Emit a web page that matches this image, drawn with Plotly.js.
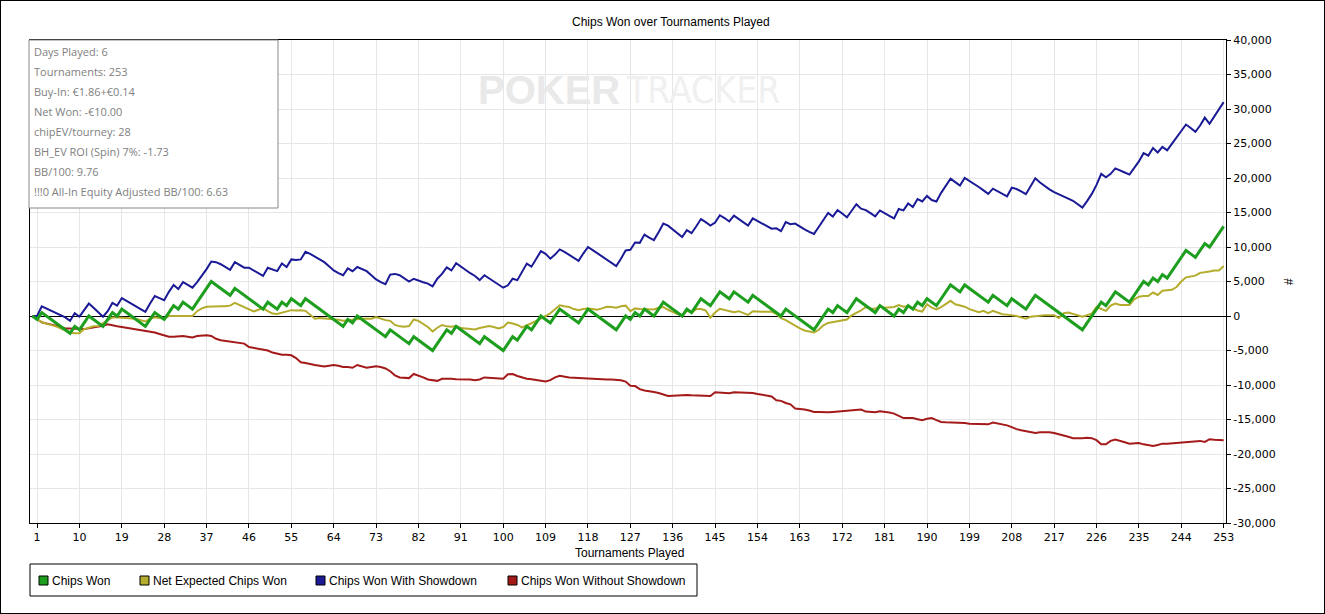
<!DOCTYPE html>
<html>
<head>
<meta charset="utf-8">
<script src="https://cdn.plot.ly/plotly-3.0.1.min.js"></script>
<style>
  html, body { margin: 0; padding: 0; background: #ffffff; }
  #wrap { position: relative; width: 1325px; height: 614px; }
  #chart { position: absolute; left: 0; top: 0; width: 1325px; height: 614px; }
  #frame { position: absolute; left: 0; top: 0; width: 1325px; height: 614px; box-sizing: border-box; border: 1px solid #000; pointer-events: none; }
</style>
</head>
<body>
<div id="wrap"><div id="chart"></div><div id="frame"></div></div>
<script>
// ---------------- DATA ----------------
const chartTitle = "Chips Won over Tournaments Played";
const xTitle = "Tournaments Played";
const yTitle = "#";

const seriesNames = ["Chips Won", "Net Expected Chips Won", "Chips Won With Showdown", "Chips Won Without Showdown"];
const seriesColors = ["#1e9e1e", "#b4ac2c", "#1a1a96", "#a41a1a"];

const infoLines = [
  "Days Played: 6",
  "Tournaments: 253",
  "Buy-In: €1.86+€0.14",
  "Net Won: -€10.00",
  "chipEV/tourney: 28",
  "BH_EV ROI (Spin) 7%: -1.73",
  "BB/100: 9.76",
  "!!!0 All-In Equity Adjusted BB/100: 6.63"
];

const xTickVals = [1,10,19,28,37,46,55,64,73,82,91,100,109,118,127,136,145,154,163,172,181,190,199,208,217,226,235,244,253];
const yTickVals = [-30000,-25000,-20000,-15000,-10000,-5000,0,5000,10000,15000,20000,25000,30000,35000,40000];
const yTickText = ["-30,000","-25,000","-20,000","-15,000","-10,000","-5,000","0","5,000","10,000","15,000","20,000","25,000","30,000","35,000","40,000"];

// cumulative values after each tournament (index 0 = start)
const chipsWon = [
  0,-500,500,0,-500,-1000,-1500,-2000,-2500,-1500,
  -2000,-1000,0,-500,-1000,-1500,-500,500,0,1000,
  500,0,-500,-1000,-1500,-500,500,0,-500,500,
  1500,1000,2000,1500,1000,2000,3000,4000,5000,4500,
  4000,3500,3000,4000,3500,3000,2500,2000,1500,1000,
  2000,1500,1000,2000,1500,2500,2000,1500,2500,2000,
  1500,1000,500,0,-500,-1000,-1500,-500,-1000,0,
  -500,-1000,-1500,-2000,-2500,-3000,-2000,-2500,-3000,-3500,
  -4000,-3000,-3500,-4000,-4500,-5000,-4000,-3000,-2000,-2500,
  -1500,-2000,-2500,-3000,-3500,-4000,-3000,-3500,-4000,-4500,
  -5000,-4000,-3000,-3500,-2500,-1500,-2000,-1000,0,-500,
  -1000,0,1000,500,0,-500,-1000,0,1000,500,
  0,-500,-1000,-1500,-2000,-1000,0,-500,500,0,
  1000,500,0,1000,2000,1500,1000,500,0,1000,
  500,1500,2500,2000,1500,2500,3500,3000,2500,3500,
  3000,2500,2000,3000,2500,2000,1500,1000,500,0,
  1000,500,0,-500,-1000,-1500,-2000,-1000,0,1000,
  500,1500,1000,500,1500,2500,2000,1500,1000,500,
  1500,1000,500,0,1000,500,1500,1000,2000,1500,
  2500,2000,1500,2500,3500,4500,4000,3500,4500,4000,
  3500,3000,2500,2000,3000,2500,2000,1500,2500,2000,
  1500,1000,2000,3000,2500,2000,1500,1000,500,0,
  -500,-1000,-1500,-2000,-1000,0,1000,2000,1500,2500,
  3500,3000,2500,2000,3000,4000,5000,4500,5500,5000,
  6000,5500,6500,7500,8500,9500,9000,8500,9500,10500,
  10000,11000,12000,13000
];

const netExpected = [
  0,-500,-900,-1100,-1250,-1500,-1800,-2100,-2400,-2500,
  -2500,-1900,-1650,-1500,-1450,-1000,-600,-200,-200,-200,
  -300,-350,-400,-600,-800,-400,-200,-300,-350,0,
  0,0,0,0,0,700,1100,1350,1400,1450,
  1400,1400,1500,1900,1600,1350,1000,650,900,1100,
  700,350,300,500,650,850,800,850,750,100,
  -400,-300,-350,-400,-400,-550,-700,-600,-500,-450,
  -400,-400,-400,-150,-400,-600,-700,-1300,-1500,-1550,
  -1450,-500,-700,-1100,-1600,-2250,-1700,-1300,-1500,-1550,
  -1450,-1750,-1800,-1850,-1950,-1750,-1600,-1450,-1600,-1800,
  -1600,-950,-1100,-1300,-1650,-1400,-1050,-700,-400,0,
  400,1000,1550,1400,1300,1000,850,1000,1100,1000,
  900,1100,1350,1300,1200,1400,1500,700,1100,1000,
  950,950,950,1200,1300,900,600,300,150,750,
  500,1000,1000,800,-250,500,1050,850,750,550,
  700,400,150,700,600,600,600,650,300,-300,
  -600,-1000,-1500,-1800,-2100,-2300,-2400,-2000,-1350,-1000,
  -900,-800,-650,-500,100,400,800,1300,1100,1050,
  1450,1200,1200,1300,1600,1350,1450,1100,800,650,
  1700,1200,950,1300,1700,2200,1700,1550,1350,1000,
  750,550,750,400,750,500,250,200,150,0,
  -200,-400,-100,0,50,100,120,100,-300,400,
  500,300,0,-100,100,350,1300,1000,750,1500,
  1800,1600,1600,1600,2400,2800,2900,2900,3400,3050,
  3650,3700,3800,4200,5000,5600,5700,5850,6250,6300,
  6450,6600,6600,7250
];

const wonWithShowdown = [
  0,0,1400,1100,700,400,100,-200,-700,400,
  -100,900,1800,1200,500,-100,700,1900,1500,2600,
  2200,1800,1400,1000,600,1800,2900,2600,2300,3500,
  4500,3900,4900,4500,4100,4900,5800,6800,7900,7800,
  7500,7100,6700,7800,7400,7000,7000,6600,6200,5800,
  7000,6800,6500,7600,7100,8200,8100,8200,9300,9000,
  8600,8200,7800,7200,6600,6200,5900,6900,6500,7100,
  6800,6500,5900,5300,4900,4600,6000,6100,5900,5500,
  5000,5400,5100,4900,4700,4300,5400,6100,7050,6600,
  7650,7150,6650,6200,5800,5200,5900,5450,5000,4550,
  4100,4450,5400,5200,6450,7600,7150,8300,9400,9000,
  8300,8900,9650,9300,8900,8450,8000,9050,10000,9550,
  9100,8650,8200,7700,7250,8300,9500,9600,10650,10600,
  11800,11350,11000,12150,13400,13100,12550,12000,11450,12450,
  12000,13000,14050,13600,13100,13550,14600,14200,13700,14550,
  14050,13600,13100,14150,13800,13450,13050,12650,12700,12300,
  13600,13300,13400,12950,12550,12200,11900,12900,13950,14950,
  14400,15350,14850,14300,15250,16200,15550,15350,14900,14450,
  15300,14850,14500,14150,15500,15300,16300,15800,16950,16600,
  17400,16800,16600,17850,18900,19900,19400,18900,20000,19600,
  19150,18700,18200,17700,18450,18050,17650,17350,18600,18400,
  18050,17650,18800,19950,19350,18800,18350,17950,17600,17300,
  17000,16700,16250,15700,16650,17700,19000,20600,20100,20600,
  21400,21050,20800,20500,21450,22400,23600,23250,24350,23700,
  24500,24000,24950,25850,26750,27750,27250,26700,27600,28750,
  27850,28950,30000,31000
];

const wonWithoutShowdown = [
  0,-500,-900,-1100,-1200,-1400,-1600,-1800,-1800,-1900,
  -1900,-1900,-1800,-1700,-1500,-1400,-1200,-1400,-1500,-1600,
  -1700,-1800,-1900,-2000,-2100,-2300,-2400,-2600,-2800,-3000,
  -3000,-2900,-2900,-3000,-3100,-2900,-2800,-2800,-2900,-3300,
  -3500,-3600,-3700,-3800,-3900,-4000,-4500,-4600,-4700,-4800,
  -5000,-5300,-5500,-5600,-5600,-5700,-6100,-6700,-6800,-7000,
  -7100,-7200,-7300,-7200,-7100,-7200,-7400,-7400,-7500,-7100,
  -7300,-7500,-7400,-7300,-7400,-7600,-8000,-8600,-8900,-9000,
  -9000,-8400,-8600,-8900,-9200,-9300,-9400,-9100,-9050,-9100,
  -9150,-9150,-9150,-9200,-9300,-9200,-8900,-8950,-9000,-9050,
  -9100,-8450,-8400,-8700,-8950,-9100,-9150,-9300,-9400,-9500,
  -9300,-8900,-8650,-8800,-8900,-8950,-9000,-9050,-9000,-9050,
  -9100,-9150,-9200,-9200,-9250,-9300,-9500,-10100,-10150,-10600,
  -10800,-10850,-11000,-11150,-11400,-11600,-11550,-11500,-11450,-11450,
  -11500,-11500,-11550,-11600,-11600,-11050,-11100,-11200,-11200,-11050,
  -11050,-11100,-11100,-11150,-11300,-11450,-11550,-11650,-12200,-12300,
  -12600,-12800,-13400,-13450,-13550,-13700,-13900,-13900,-13950,-13950,
  -13900,-13850,-13850,-13800,-13750,-13700,-13550,-13850,-13900,-13950,
  -13800,-13850,-14000,-14150,-14500,-14800,-14800,-14800,-14950,-15100,
  -14900,-14800,-15100,-15350,-15400,-15400,-15400,-15400,-15500,-15600,
  -15650,-15700,-15700,-15700,-15450,-15550,-15650,-15850,-16100,-16400,
  -16550,-16650,-16800,-16950,-16850,-16800,-16850,-16950,-17100,-17300,
  -17500,-17700,-17750,-17700,-17650,-17700,-18000,-18600,-18600,-18100,
  -17900,-18050,-18300,-18500,-18450,-18400,-18600,-18750,-18850,-18700,
  -18500,-18500,-18450,-18350,-18250,-18250,-18250,-18200,-18100,-18250,
  -17850,-17950,-18000,-18000
];

// tournament index for each point (0 = before the first tournament)
const tournaments = chipsWon.map((_, i) => i);

// ---------------- LAYOUT HELPERS (pixel -> paper) ----------------
const PL = 30, PR = 1226, PT = 40, PB = 523;
const px = x => (x - PL) / (PR - PL);
const py = y => (PB - y) / (PB - PT);

const traces = [
  { name: seriesNames[3], x: tournaments, y: wonWithoutShowdown, mode: "lines", line: { color: seriesColors[3], width: 2 }, hoverinfo: "skip" },
  { name: seriesNames[2], x: tournaments, y: wonWithShowdown, mode: "lines", line: { color: seriesColors[2], width: 2 }, hoverinfo: "skip" },
  { name: seriesNames[1], x: tournaments, y: netExpected, mode: "lines", line: { color: seriesColors[1], width: 2 }, hoverinfo: "skip" },
  { name: seriesNames[0], x: tournaments, y: chipsWon, mode: "lines", line: { color: seriesColors[0], width: 3 }, hoverinfo: "skip" }
];

const shapes = [];
const annotations = [];

// title, axis titles
annotations.push({ text: chartTitle, xref: "paper", yref: "paper", x: px(670.5), y: py(22), xanchor: "center", yanchor: "middle", showarrow: false, font: { family: "Liberation Sans, Arial, sans-serif", size: 12, color: "#000" } });
annotations.push({ text: xTitle, xref: "paper", yref: "paper", x: px(629), y: py(553), xanchor: "center", yanchor: "middle", showarrow: false, font: { family: "Liberation Sans, Arial, sans-serif", size: 12, color: "#000" } });
annotations.push({ text: yTitle, xref: "paper", yref: "paper", x: px(1289), y: py(282), xanchor: "center", yanchor: "middle", textangle: -90, showarrow: false, font: { family: "Liberation Sans, Arial, sans-serif", size: 12, color: "#000" } });

// watermark
annotations.push({ text: "<b>POKER</b>", xref: "paper", yref: "paper", x: px(476), y: py(90), xanchor: "left", yanchor: "middle", showarrow: false, font: { family: "Liberation Sans, Arial, sans-serif", size: 40, color: "#e9e9e9" } });
annotations.push({ text: "TRACKER", xref: "paper", yref: "paper", x: px(624), y: py(90), xanchor: "left", yanchor: "middle", showarrow: false, font: { family: "DejaVu Sans Condensed, Liberation Sans, sans-serif", size: 37, color: "#f0f0f0" } });

// info box
shapes.push({ type: "rect", xref: "paper", yref: "paper", x0: px(29), x1: px(278), y0: py(208), y1: py(40), line: { color: "#8a8a8a", width: 1 }, fillcolor: "#ffffff", layer: "above" });
infoLines.forEach((t, i) => {
  annotations.push({ text: t, xref: "paper", yref: "paper", x: px(32), y: py(51.5 + 20 * i), xanchor: "left", yanchor: "middle", showarrow: false, font: { family: "Open Sans, Noto Sans, sans-serif", size: 11, color: "#808080" } });
});

// legend
shapes.push({ type: "rect", xref: "paper", yref: "paper", x0: px(30), x1: px(697), y0: py(596), y1: py(564), line: { color: "#000", width: 1 }, fillcolor: "#ffffff", layer: "above" });
const legendSquareX = [39, 140, 316, 508];
const legendTextX = [52, 153, 329, 521];
const legendOrder = [0, 1, 2, 3];
legendOrder.forEach((s, i) => {
  shapes.push({ type: "rect", xref: "paper", yref: "paper", x0: px(legendSquareX[i]), x1: px(legendSquareX[i] + 9), y0: py(585), y1: py(576), line: { color: "#000", width: 1 }, fillcolor: seriesColors[s], layer: "above" });
  annotations.push({ text: seriesNames[s], xref: "paper", yref: "paper", x: px(legendTextX[i] - 2), y: py(580.5), xanchor: "left", yanchor: "middle", showarrow: false, font: { family: "Liberation Sans, Arial, sans-serif", size: 12, color: "#000" } });
});

const layout = {
  width: 1325, height: 614,
  margin: { l: PL, r: 1325 - PR, t: PT, b: 614 - PB, pad: 0 },
  paper_bgcolor: "#ffffff",
  plot_bgcolor: "#ffffff",
  showlegend: false,
  font: { family: "Liberation Sans, Arial, sans-serif", size: 12, color: "#000" },
  xaxis: {
    range: [-0.5, 253.5],
    tickmode: "array", tickvals: xTickVals, ticktext: xTickVals.map(String),
    ticks: "outside", ticklen: 4, tickcolor: "#000", tickwidth: 1,
    showline: true, linecolor: "#000", linewidth: 1, mirror: true,
    showgrid: true, gridcolor: "#e6e6e6", gridwidth: 1,
    zeroline: false,
    tickfont: { family: "DejaVu Sans, sans-serif", size: 11, color: "#000" },
    fixedrange: true
  },
  yaxis: {
    side: "right",
    range: [-30000, 40000],
    tickmode: "array", tickvals: yTickVals, ticktext: yTickText,
    ticks: "outside", ticklen: 4, tickcolor: "#000", tickwidth: 1,
    showline: true, linecolor: "#000", linewidth: 1, mirror: true,
    showgrid: true, gridcolor: "#e6e6e6", gridwidth: 1,
    zeroline: true, zerolinecolor: "#000", zerolinewidth: 1,
    tickfont: { family: "DejaVu Sans, sans-serif", size: 11, color: "#000" },
    fixedrange: true
  },
  shapes: shapes,
  annotations: annotations
};

Plotly.newPlot("chart", traces, layout, { displayModeBar: false, staticPlot: true });
</script>
</body>
</html>
